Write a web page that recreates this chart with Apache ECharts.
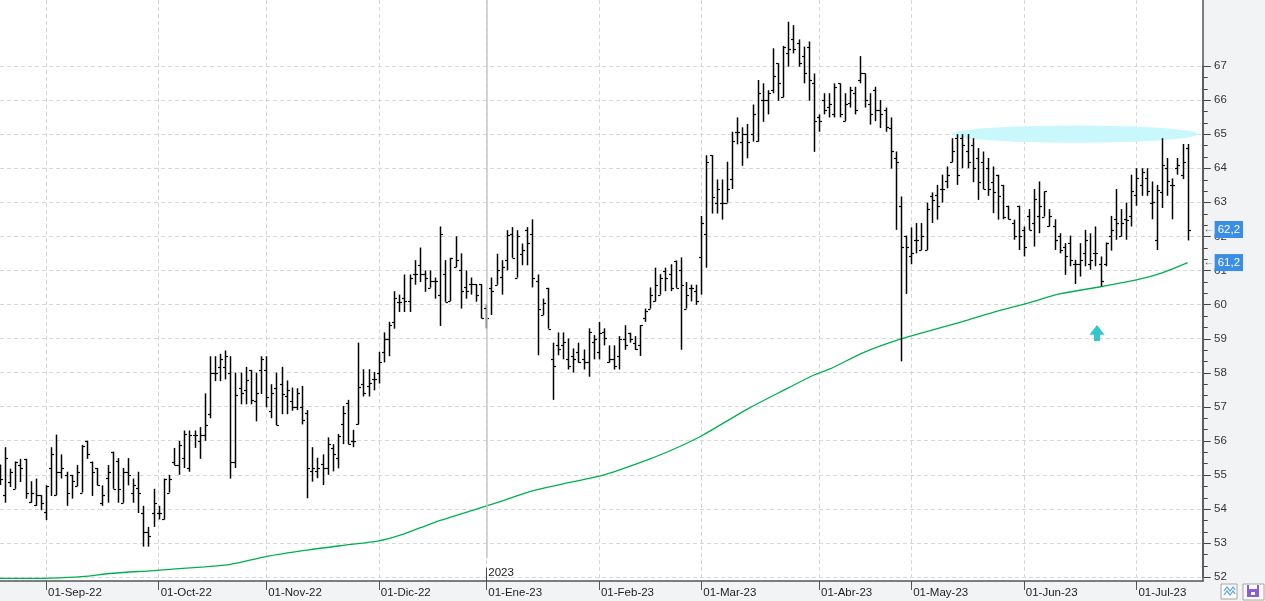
<!DOCTYPE html>
<html><head><meta charset="utf-8">
<script src="https://cdn.jsdelivr.net/npm/echarts@6.0.0/dist/echarts.min.js"></script>
<style>html,body{margin:0;padding:0;background:#f2f3f5}#c{width:1265px;height:601px}</style>
</head><body><div id="c"></div><script>
const dates = [
'2022-08-19','2022-08-22','2022-08-23','2022-08-24','2022-08-25','2022-08-26','2022-08-29','2022-08-30','2022-08-31',
'2022-09-01','2022-09-02','2022-09-05','2022-09-06','2022-09-07','2022-09-08','2022-09-09','2022-09-12','2022-09-13','2022-09-14','2022-09-15','2022-09-16','2022-09-19','2022-09-20','2022-09-21','2022-09-22','2022-09-23','2022-09-26','2022-09-27','2022-09-28','2022-09-29','2022-09-30',
'2022-10-03','2022-10-04','2022-10-05','2022-10-06','2022-10-07','2022-10-10','2022-10-11','2022-10-12','2022-10-13','2022-10-14','2022-10-17','2022-10-18','2022-10-19','2022-10-20','2022-10-21','2022-10-24','2022-10-25','2022-10-26','2022-10-27','2022-10-28','2022-10-31',
'2022-11-01','2022-11-02','2022-11-03','2022-11-04','2022-11-07','2022-11-08','2022-11-09','2022-11-10','2022-11-11','2022-11-14','2022-11-15','2022-11-16','2022-11-17','2022-11-18','2022-11-21','2022-11-22','2022-11-23','2022-11-24','2022-11-25','2022-11-28','2022-11-29','2022-11-30',
'2022-12-01','2022-12-02','2022-12-05','2022-12-06','2022-12-07','2022-12-08','2022-12-09','2022-12-12','2022-12-13','2022-12-14','2022-12-15','2022-12-16','2022-12-19','2022-12-20','2022-12-21','2022-12-22','2022-12-23','2022-12-27','2022-12-28','2022-12-29','2022-12-30',
'2023-01-02','2023-01-03','2023-01-04','2023-01-05','2023-01-06','2023-01-09','2023-01-10','2023-01-11','2023-01-12','2023-01-13','2023-01-16','2023-01-17','2023-01-18','2023-01-19','2023-01-20','2023-01-23','2023-01-24','2023-01-25','2023-01-26','2023-01-27','2023-01-30','2023-01-31',
'2023-02-01','2023-02-02','2023-02-03','2023-02-06','2023-02-07','2023-02-08','2023-02-09','2023-02-10','2023-02-13','2023-02-14','2023-02-15','2023-02-16','2023-02-17','2023-02-20','2023-02-21','2023-02-22','2023-02-23','2023-02-24','2023-02-27','2023-02-28',
'2023-03-01','2023-03-02','2023-03-03','2023-03-06','2023-03-07','2023-03-08','2023-03-09','2023-03-10','2023-03-13','2023-03-14','2023-03-15','2023-03-16','2023-03-17','2023-03-20','2023-03-21','2023-03-22','2023-03-23','2023-03-24','2023-03-27','2023-03-28','2023-03-29','2023-03-30','2023-03-31',
'2023-04-03','2023-04-04','2023-04-05','2023-04-06','2023-04-11','2023-04-12','2023-04-13','2023-04-14','2023-04-17','2023-04-18','2023-04-19','2023-04-20','2023-04-21','2023-04-24','2023-04-25','2023-04-26','2023-04-27','2023-04-28',
'2023-05-02','2023-05-03','2023-05-04','2023-05-05','2023-05-08','2023-05-09','2023-05-10','2023-05-11','2023-05-12','2023-05-15','2023-05-16','2023-05-17','2023-05-18','2023-05-19','2023-05-22','2023-05-23','2023-05-24','2023-05-25','2023-05-26','2023-05-29','2023-05-30','2023-05-31',
'2023-06-01','2023-06-02','2023-06-05','2023-06-06','2023-06-07','2023-06-08','2023-06-09','2023-06-12','2023-06-13','2023-06-14','2023-06-15','2023-06-16','2023-06-19','2023-06-20','2023-06-21','2023-06-22','2023-06-23','2023-06-26','2023-06-27','2023-06-28','2023-06-29','2023-06-30',
'2023-07-03','2023-07-04','2023-07-05','2023-07-06','2023-07-07','2023-07-10','2023-07-11','2023-07-12','2023-07-13','2023-07-14','2023-07-17'
];
const padCategories = ['p1','p2','p3'];
const monthNames = ['Ene','Feb','Mar','Abr','May','Jun','Jul','Ago','Sep','Oct','Nov','Dic'];
const yTicks = [52,53,54,55,56,57,58,59,60,61,62,63,64,65,66,67];

const opens = [
55.00,54.40,54.79,54.59,55.29,55.47,54.20,54.10,54.40,53.91,
55.20,54.40,55.09,55.00,55.00,54.67,54.48,55.98,55.39,55.20,
54.18,54.90,55.68,55.40,54.18,55.09,54.48,54.60,53.88,53.32,
53.88,53.88,53.69,54.48,55.39,55.29,55.49,55.20,56.18,56.00,
56.18,56.78,58.00,58.17,58.17,58.00,55.39,57.56,57.50,58.08,
57.17,58.08,58.08,56.88,57.56,57.66,57.30,57.17,57.00,57.00,
56.82,55.12,55.12,55.31,55.19,55.80,55.50,56.48,57.10,56.00,
56.48,57.68,57.60,57.80,58.00,58.60,59.00,59.50,60.08,60.19,
60.10,60.88,61.17,60.90,60.49,60.68,60.29,60.88,60.10,61.10,
61.00,60.52,60.60,60.60,60.60,59.90,60.49,60.58,60.80,61.30,
62.08,60.79,61.49,62.18,62.08,60.68,59.69,60.49,58.39,58.81,
58.80,58.39,58.50,58.60,58.40,58.31,58.90,58.60,59.19,58.30,
58.39,58.50,59.00,59.17,58.88,58.80,59.59,59.88,60.10,60.29,
60.98,60.89,61.29,61.00,59.88,60.49,60.40,61.38,62.08,64.38,
62.99,62.99,62.99,63.67,65.07,64.78,65.00,65.00,64.80,66.00,
66.00,66.29,67.08,66.08,67.37,67.78,67.67,67.29,67.57,66.49,
65.50,66.00,65.80,65.60,66.49,65.38,65.90,66.20,66.59,66.78,
65.88,66.29,65.71,65.71,65.18,64.30,62.90,62.02,61.41,61.90,
61.60,61.60,63.19,63.20,63.39,63.61,64.18,64.90,64.88,64.50,
64.69,64.30,64.18,64.00,63.60,63.81,63.50,62.90,62.40,62.90,
62.20,62.60,62.40,62.60,62.58,62.31,62.30,62.00,61.70,61.80,
61.20,61.18,61.51,61.18,61.50,61.18,61.20,62.00,62.50,62.00,
62.50,62.60,63.20,63.50,63.70,62.97,61.90,63.30,64.00,63.50,
64.00,63.80,64.60
];
const highs = [
55.30,55.81,55.18,55.39,55.47,55.47,54.81,54.89,54.40,54.69,
55.81,56.18,55.60,55.09,55.00,55.29,55.88,56.00,55.39,55.20,
54.69,55.29,55.68,55.49,55.20,55.49,54.89,55.09,54.09,53.47,
54.59,54.09,54.89,55.00,55.79,56.00,56.30,56.30,56.30,56.40,
57.39,58.48,58.48,58.55,58.65,58.48,58.00,58.00,58.17,58.08,
58.00,58.48,58.48,57.66,58.00,58.17,57.77,57.56,57.54,57.61,
56.90,55.81,55.50,55.60,56.10,55.90,56.20,57.02,57.20,56.32,
58.88,58.10,58.10,58.02,58.61,59.18,59.49,60.39,60.29,60.88,
60.88,61.30,61.67,61.00,61.00,60.79,62.29,61.30,61.37,62.00,
61.50,61.00,60.79,60.60,60.60,60.00,60.79,61.49,61.30,62.18,
62.27,62.18,61.79,62.27,62.50,60.88,60.17,60.49,58.88,59.18,
59.18,59.00,58.71,58.88,58.68,59.30,59.10,59.49,59.30,58.80,
58.80,59.07,59.39,59.17,59.07,59.39,59.88,60.50,61.08,60.89,
61.08,61.18,61.29,61.38,60.66,60.58,60.58,62.60,64.38,64.38,
63.67,63.67,64.19,65.07,65.49,65.20,65.30,65.87,66.59,66.49,
66.29,67.52,67.08,67.59,68.30,68.20,67.78,67.57,67.72,66.78,
65.58,66.20,66.20,66.49,66.49,66.20,66.39,66.39,67.29,66.78,
66.20,66.39,66.00,65.78,65.49,64.49,63.17,62.02,62.26,62.39,
62.39,62.99,63.29,63.51,63.81,64.05,64.88,65.00,65.00,65.00,
64.88,64.59,64.49,64.30,64.05,63.81,63.51,62.90,62.49,62.90,
62.29,62.80,63.39,63.61,63.32,62.80,62.50,62.09,61.80,62.02,
61.31,61.80,62.19,62.09,62.29,61.41,61.82,62.60,63.39,62.80,
62.99,63.81,64.00,64.00,64.00,63.61,63.51,64.88,64.30,63.70,
64.30,64.71,64.71
];
const lows = [
54.70,54.18,54.64,54.59,54.79,54.30,54.18,54.09,53.96,53.67,
54.38,54.40,54.89,54.09,54.30,54.67,54.48,55.47,54.38,54.69,
54.09,54.18,54.59,54.18,54.18,54.69,54.18,53.88,52.89,52.89,
53.47,53.69,53.69,54.48,55.29,55.00,55.20,55.09,55.79,55.47,
56.00,56.66,57.75,57.75,57.80,54.89,55.20,57.07,57.07,57.07,
56.57,57.37,56.98,56.66,56.46,56.78,56.78,56.88,56.90,56.48,
54.31,54.80,54.90,54.70,55.00,55.10,55.19,55.90,55.90,55.81,
56.48,57.30,57.30,57.48,57.68,58.30,58.48,59.29,59.78,59.78,
59.78,60.58,60.66,60.37,60.49,60.17,59.37,60.08,60.10,61.10,
59.88,60.17,60.29,60.08,59.59,59.30,59.69,60.58,60.29,61.00,
61.37,60.79,61.15,61.15,60.50,58.51,59.69,59.29,57.20,58.51,
58.39,58.09,58.00,58.29,58.09,57.88,58.39,58.39,58.80,58.29,
58.09,58.09,58.67,58.88,58.67,58.49,59.49,59.88,60.09,60.29,
60.39,60.39,60.49,58.67,59.88,60.09,59.99,60.29,61.08,62.67,
62.67,62.49,62.99,63.39,64.70,64.07,64.29,64.78,64.78,65.36,
65.58,66.20,65.98,66.08,66.98,67.37,66.98,66.49,65.98,64.48,
65.07,65.58,65.49,65.49,65.49,65.38,65.78,65.58,66.49,65.78,
65.28,65.38,65.18,65.07,63.99,62.19,58.33,60.31,61.18,61.50,
61.60,61.60,62.39,62.49,62.99,63.41,64.18,63.51,64.00,64.00,
63.59,63.07,63.39,63.19,62.68,62.49,62.50,62.50,61.90,61.60,
61.41,62.19,61.70,62.09,62.58,62.29,61.60,61.50,60.87,61.12,
60.60,60.82,61.12,61.02,61.12,60.53,61.12,61.58,61.90,62.00,
61.90,62.29,62.90,63.19,63.19,62.50,61.60,62.83,63.19,62.50,
63.81,63.68,61.88
];
const closes = [
54.89,55.49,55.08,55.37,55.20,54.48,54.48,54.40,54.18,54.67,
55.60,55.09,55.20,54.48,54.81,55.09,55.86,55.60,55.09,54.69,
54.40,55.09,54.59,54.59,55.09,55.00,54.69,54.48,53.32,53.20,
54.18,53.88,54.89,54.89,55.29,55.88,56.20,56.18,56.18,56.18,
56.46,58.00,58.00,58.39,58.48,55.39,57.35,57.40,57.77,57.20,
57.40,58.39,57.27,57.40,56.46,57.37,57.48,56.98,57.39,56.61,
55.19,55.19,55.19,55.19,55.90,55.60,56.15,56.82,55.90,56.00,
57.59,57.40,57.70,57.80,58.31,59.00,59.39,60.19,60.08,60.10,
60.79,60.88,60.90,60.79,60.70,60.68,62.08,60.08,61.37,61.30,
60.39,60.39,60.60,60.29,59.59,59.60,60.39,61.00,61.10,62.03,
61.37,62.00,61.60,61.79,60.79,59.88,60.05,59.29,58.20,58.70,
58.90,58.20,58.39,58.31,58.31,59.20,59.00,59.15,59.02,58.40,
58.20,59.00,58.80,59.00,58.70,59.39,59.80,60.29,60.58,60.79,
60.79,60.49,60.49,60.58,60.29,60.49,60.09,62.38,64.19,63.16,
63.39,62.99,63.39,64.80,65.07,65.00,64.78,65.58,66.20,66.00,
66.20,66.70,66.49,67.57,67.49,67.49,67.08,66.78,66.59,65.38,
65.38,65.71,65.88,66.39,65.60,65.88,66.29,65.71,66.78,66.00,
65.58,65.71,65.58,65.20,64.50,64.18,61.70,61.70,61.50,61.90,
62.02,62.80,63.07,62.90,63.39,63.81,64.50,63.81,64.69,64.18,
64.00,63.60,63.39,63.39,63.29,63.19,62.58,62.50,62.00,62.00,
61.70,62.19,63.09,62.90,63.32,62.60,61.90,61.60,61.41,61.31,
61.18,61.30,61.90,61.30,61.51,60.70,61.80,62.20,62.39,62.40,
62.49,63.32,63.70,63.90,63.32,63.00,63.37,64.10,63.61,63.50,
64.10,64.18,62.20
];
// moving average read at sample bars
const maIdx = [0,10,16,22,30,40,45,52,60,67,74,78,82,86,91,96,100,104,112,118,127,132,137,146,154,159,162,169,176,181,188,194,201,207,215,222,227,232];
const maVal = [51.96,51.97,52.01,52.11,52.19,52.30,52.37,52.60,52.79,52.93,53.06,53.22,53.44,53.66,53.90,54.13,54.33,54.53,54.80,55.00,55.47,55.78,56.14,56.93,57.55,57.93,58.10,58.61,58.99,59.20,59.50,59.77,60.05,60.31,60.52,60.72,60.93,61.23];
const lastCloseText = '62,2';
const lastMaText = '61,2';
// annotations: resistance ellipse [fromBar, toBar, level, halfHeight], arrow [bar, top, bottom]
const zone = [186, 234, 65, 0.25];
const arrowMark = [214, 59.40, 58.93];
const yearBar = 95;
const yearText = '2023';

const cats = dates.concat(padCategories);
function isMonthStart(i){
  if (i <= 0 || i >= dates.length) return false;
  return dates[i].slice(0,7) !== dates[i-1].slice(0,7);
}
const ohlc = dates.map((d,i)=>[i, opens[i], highs[i], lows[i], closes[i]]);
const maData = maIdx.map((i,k)=>[i, maVal[k]]);
const FONT = 'Liberation Sans, Arial, sans-serif';
const YMIN = 51.883, YMAX = 68.937;

const chart = echarts.init(document.getElementById('c'));
const tagLabel = (txt) => ({
  show: true, position: 'right', distance: 16,
  formatter: '{a|←}{b|' + txt + '}',
  rich: {
    a: {color:'#555', fontSize:10, fontFamily:FONT, padding:[0,1,0,0]},
    b: {color:'#fff', backgroundColor:'#3b8ee6', fontSize:11.5, fontFamily:FONT, padding:[3,3,2,3], lineHeight:14}
  }
});

chart.setOption({
  animation: false,
  backgroundColor: '#f2f3f5',
  grid: [
    {left:0, top:0, width:1203, bottom:20, show:true, backgroundColor:'#ffffff', borderWidth:0, outerBoundsMode:'none', containLabel:false},
    {left:0, top:66, width:1203, bottom:24, show:false, outerBoundsMode:'none', containLabel:false}
  ],
  xAxis: [
    {type:'category', gridIndex:0, data:cats, boundaryGap:false,
     axisLine:{lineStyle:{color:'#555', width:1.5}},
     axisTick:{show:true, interval:(i)=>isMonthStart(i), length:9, lineStyle:{color:'#555', width:1}},
     axisLabel:{interval:(i)=>isMonthStart(i),
       formatter:(v, i)=> isMonthStart(i) ? ('01-' + monthNames[+v.slice(5,7)-1] + '-' + v.slice(2,4)) : '',
       align:'left', padding:[0,0,0,2], margin:6, color:'#1e1e1e', fontSize:11.5, fontFamily:FONT},
     splitLine:{show:true, interval:(i)=>isMonthStart(i), lineStyle:{color:'#d6d6d6', type:[4,3], width:1}}},
    {type:'value', gridIndex:1, min:0, max:1, show:false}
  ],
  yAxis: [
    {type:'value', gridIndex:0, position:'right', min:YMIN, max:YMAX, scale:true,
     axisLine:{show:true, onZero:false, lineStyle:{color:'#555', width:1.5}},
     axisTick:{show:false}, axisLabel:{show:false}, splitLine:{show:false}},
    {type:'value', gridIndex:1, position:'right', min:52, max:67, interval:1,
     axisLine:{show:true, onZero:false, lineStyle:{color:'#555', width:1.5}},
     axisTick:{show:false},
     axisLabel:{margin:11, color:'#333', fontSize:11.5, fontFamily:FONT},
     splitLine:{show:true, lineStyle:{color:'#d9d9d9', type:[4,3], width:1}}}
  ],
  series: [
    {type:'line', xAxisIndex:1, yAxisIndex:1, data:[], silent:true},
    {
      type:'custom', xAxisIndex:0, yAxisIndex:0, z:1, silent:true, clip:false,
      data:[zone],
      renderItem:(params, api)=>{
        const pL = api.coord([api.value(0), api.value(2)]);
        const pR = api.coord([api.value(1), api.value(2)]);
        const pT = api.coord([api.value(0), api.value(2) + api.value(3)]);
        const rx = (pR[0]-pL[0])/2, ry = pL[1]-pT[1];
        const a0 = api.coord([arrowMark[0], arrowMark[1]]);
        const a1 = api.coord([arrowMark[0], arrowMark[2]]);
        const h = a1[1]-a0[1], ax = a0[0]+1.5, hy = a0[1] + h*0.62;
        return {type:'group', children:[
          {type:'circle', shape:{cx:0, cy:0, r:ry}, x:(pL[0]+pR[0])/2, y:pL[1], scaleX:rx/ry,
           style:{fill:'#c8f7fc'}},
          {type:'polygon', shape:{points:[[ax,a0[1]],[ax+7.5,hy],[ax+3,hy],[ax+3,a1[1]],[ax-3,a1[1]],[ax-3,hy],[ax-7.5,hy]]},
           style:{fill:'#33c6cc'}}
        ]};
      },
      markLine:{silent:true, symbol:['none','none'], label:{show:false},
        data:[
          [{coord:[yearBar, YMAX], lineStyle:{color:'#c9c9c9', width:1.5, type:'solid'}}, {coord:[yearBar, 52.55]}],
          [{coord:[yearBar, 52.27], lineStyle:{color:'#444', width:1, type:'solid'}}, {coord:[yearBar, YMIN]}]
        ]},
      markPoint:{symbol:'circle', symbolSize:0, silent:true,
        data:[{coord:[yearBar, 52.13]}],
        label:{show:true, position:'right', distance:2, formatter:yearText, color:'#222', fontSize:11.5, fontFamily:FONT}}
    },
    {
      // right-axis ticks: major every 1, minor every 1/3, placed through the price scale
      type:'custom', xAxisIndex:0, yAxisIndex:0, z:6, silent:true, clip:false,
      data: yTicks.map(v => [0, v]),
      renderItem:(params, api)=>{
        const v = api.value(1);
        const cs = params.coordSys;
        const axisX = cs.x + cs.width + 0.75;
        const kids = [];
        const yy = Math.round(api.coord([0, v])[1]) + 0.5;
        kids.push({type:'line', shape:{x1:axisX, y1:yy, x2:axisX+7, y2:yy}, style:{stroke:'#444', lineWidth:1}});
        if (v < yTicks[yTicks.length-1]) {
          [1/3, 2/3].forEach(f => {
            const ym = Math.round(api.coord([0, v + f])[1]) + 0.5;
            kids.push({type:'line', shape:{x1:axisX, y1:ym, x2:axisX+4, y2:ym}, style:{stroke:'#444', lineWidth:1}});
          });
        }
        return {type:'group', children:kids};
      }
    },
    {
      type:'line', xAxisIndex:0, yAxisIndex:0, z:2, data:maData, showSymbol:false, silent:true, smooth:0.3,
      lineStyle:{color:'#00b050', width:1.3},
      markPoint:{symbol:'circle', symbolSize:0, silent:true,
        data:[{coord:[maIdx[maIdx.length-1], maVal[maVal.length-1]]}],
        label: tagLabel(lastMaText)}
    },
    {
      type:'custom', xAxisIndex:0, yAxisIndex:0, z:3, clip:true, silent:true,
      data:ohlc,
      encode:{x:0, y:[1,2,3,4]},
      renderItem:(params, api)=>{
        const i = api.value(0);
        const pH = api.coord([i, api.value(2)]);
        const pL = api.coord([i, api.value(3)]);
        const pO = api.coord([i, api.value(1)]);
        const pC = api.coord([i, api.value(4)]);
        const x = Math.round(pH[0]) + 0.5;
        const yo = Math.round(pO[1]) + 0.5, yc = Math.round(pC[1]) + 0.5;
        const st = {stroke:'#000', lineWidth:1.5};
        const st2 = {stroke:'#000', lineWidth:1.2};
        return {type:'group', children:[
          {type:'line', shape:{x1:x, y1:pH[1], x2:x, y2:pL[1]}, style:st},
          {type:'line', shape:{x1:x-2.5, y1:yo, x2:x, y2:yo}, style:st2},
          {type:'line', shape:{x1:x, y1:yc, x2:x+2.5, y2:yc}, style:st2}
        ]};
      },
      markPoint:{symbol:'circle', symbolSize:0, silent:true,
        data:[{coord:[dates.length-1, closes[closes.length-1]]}],
        label: tagLabel(lastCloseText)}
    }
  ],
  graphic: [
    {type:'rect', shape:{x:1221, y:584, width:16, height:15}, style:{fill:'#fbfbfb', stroke:'#a6a6a6', lineWidth:1}},
    {type:'polyline', shape:{points:[[1224,591],[1227,587],[1230,591],[1233,587],[1235,590]]}, style:{stroke:'#5aa0dc', lineWidth:1.2, fill:null}},
    {type:'polyline', shape:{points:[[1224,595],[1227,591],[1230,595],[1233,591],[1235,594]]}, style:{stroke:'#5aa0dc', lineWidth:1.2, fill:null}},
    {type:'rect', shape:{x:1243, y:584, width:21, height:16}, style:{fill:'#fbfbfb', stroke:'#a6a6a6', lineWidth:1}},
    {type:'rect', shape:{x:1247, y:585, width:12, height:12}, style:{fill:'#8a5cd6'}},
    {type:'rect', shape:{x:1249, y:585, width:8, height:4}, style:{fill:'#ffffff'}},
    {type:'rect', shape:{x:1251, y:592, width:4, height:3}, style:{fill:'#ffffff'}}
  ]
});
</script></body></html>
